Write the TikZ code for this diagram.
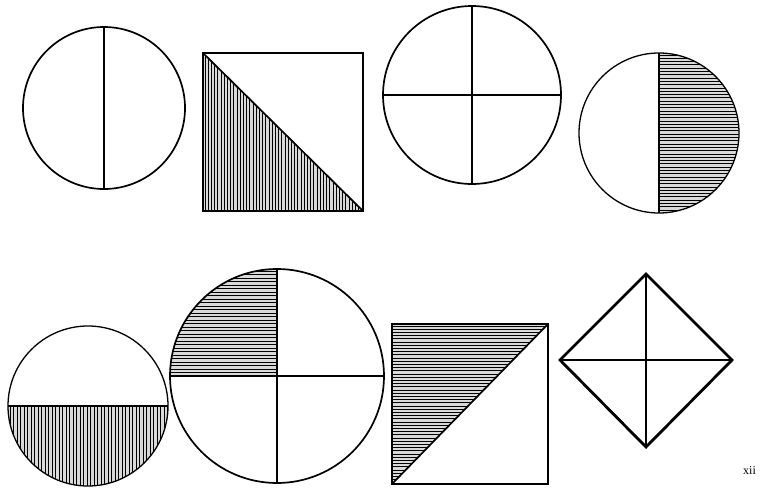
\documentclass[tikz,border=0pt]{standalone}
\usepackage{fontspec}
\setmainfont{Liberation Serif}
\begin{document}
\begin{tikzpicture}[x=1pt,y=-1pt,
  outl/.style={line width=1.7pt},
  thin outl/.style={line width=1.3pt},
  hat/.style={line width=0.85pt},
  bg/.style={fill=black!15}]
\useasboundingbox (0,0) rectangle (762,487);
% 1: circle with vertical diameter
\draw[outl] (104,108) circle (81pt);
\draw[outl] (104,27) -- (104,189);
% 2: square, lower-left triangle hatched vertically
\begin{scope}
  \clip (203,53) -- (203,211) -- (363,211) -- cycle;
  \fill[bg] (203,53) rectangle (363,211);
  \foreach \x in {205,208.2,...,363} \draw[hat] (\x,53) -- (\x,211);
\end{scope}
\draw[outl] (203,53) rectangle (363,211);
\draw[outl] (203,53) -- (363,211);
% 3: circle with cross
\draw[outl] (472,95) circle (89pt);
\draw[outl] (472,6) -- (472,184);
\draw[outl] (383,95) -- (561,95);
% 4: circle, right half hatched horizontally
\begin{scope}
  \clip (659,53) rectangle (740,213);
  \clip (659,133) circle (80pt);
  \fill[bg] (659,53) rectangle (740,213);
  \foreach \y in {55,58.3,...,213} \draw[hat] (659,\y) -- (740,\y);
\end{scope}
\draw[thin outl] (659,133) circle (80pt);
\draw[thin outl] (659,53) -- (659,213);
% 5: circle, lower half hatched vertically
\begin{scope}
  \clip (8,406) rectangle (168,487);
  \clip (88,406) circle (80pt);
  \fill[bg] (8,406) rectangle (168,487);
  \foreach \x in {10,13.5,...,168} \draw[hat] (\x,406) -- (\x,487);
\end{scope}
\draw[thin outl] (88,406) circle (80pt);
\draw[thin outl] (8,406) -- (168,406);
% 6: large circle with cross, top-left quadrant hatched horizontally
\begin{scope}
  \clip (170,269) rectangle (277,376);
  \clip (277,376) circle (107pt);
  \fill[bg] (170,269) rectangle (277,376);
  \foreach \y in {271,274.5,...,376} \draw[hat] (170,\y) -- (277,\y);
\end{scope}
\draw[outl] (277,376) circle (107pt);
\draw[outl] (277,269) -- (277,483);
\draw[outl] (170,376) -- (384,376);
% 7: square, upper-left triangle hatched horizontally
\begin{scope}
  \clip (392,324) -- (548,324) -- (392,484) -- cycle;
  \fill[bg] (392,324) rectangle (548,484);
  \foreach \y in {326,329.2,...,484} \draw[hat] (392,\y) -- (548,\y);
\end{scope}
\draw[outl] (392,324) rectangle (548,484);
\draw[outl] (392,484) -- (548,324);
% 8: diamond with cross
\draw[line width=2.8pt, line join=miter] (646,274) -- (732,360) -- (646,447) -- (560,360) -- cycle;
\draw[line width=2.8pt] (646,274) -- (646,447);
\draw[line width=2.8pt] (560,360) -- (732,360);
% page label
\node[inner sep=0pt, font=\fontsize{12}{14}\selectfont] (pagelbl) at (749.5,471) {xii};
\end{tikzpicture}
\end{document}
